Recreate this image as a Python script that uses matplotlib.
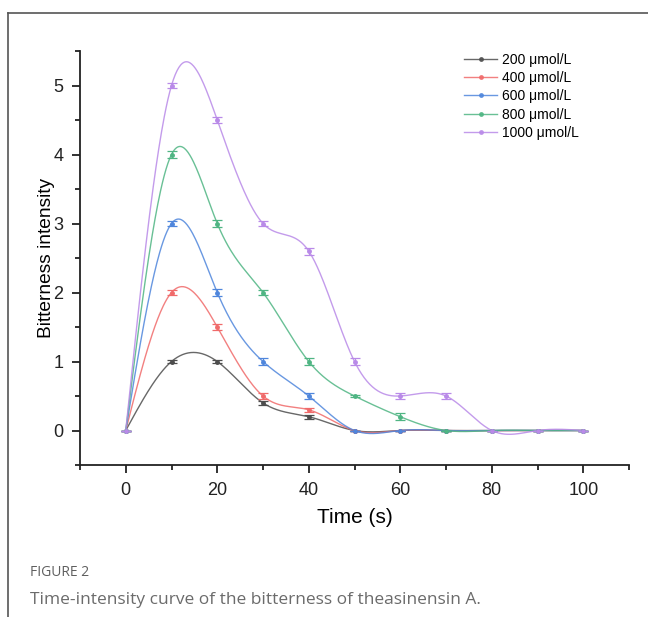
import numpy as np
import matplotlib
matplotlib.use("Agg")
import matplotlib.pyplot as plt
from matplotlib.lines import Line2D

# time points (s)
time = [0, 10, 20, 30, 40, 50, 60, 70, 80, 90, 100]

# bitterness intensity for each concentration
c200 = [0, 1.0, 1.0, 0.4, 0.2, 0, 0, 0, 0, 0, 0]
c400 = [0, 2.0, 1.5, 0.5, 0.3, 0, 0, 0, 0, 0, 0]
c600 = [0, 3.0, 2.0, 1.0, 0.5, 0, 0, 0, 0, 0, 0]
c800 = [0, 4.0, 3.0, 2.0, 1.0, 0.5, 0.2, 0, 0, 0, 0]
c1000 = [0, 5.0, 4.5, 3.0, 2.6, 1.0, 0.5, 0.5, 0, 0, 0]

# standard deviations (error bars)
e200 = [0, 0.02, 0.02, 0.03, 0.03, 0, 0, 0, 0, 0, 0]
e400 = [0, 0.04, 0.04, 0.04, 0.03, 0, 0, 0, 0, 0, 0]
e600 = [0, 0.03, 0.05, 0.05, 0.04, 0, 0, 0, 0, 0, 0]
e800 = [0, 0.05, 0.05, 0.03, 0.05, 0.02, 0.05, 0, 0, 0, 0]
e1000 = [0, 0.03, 0.04, 0.04, 0.05, 0.05, 0.05, 0.05, 0, 0, 0]

labels = ["200 μmol/L", "400 μmol/L", "600 μmol/L", "800 μmol/L", "1000 μmol/L"]
colors = ["#4d4d4d", "#f06a6a", "#4f86dc", "#4fb583", "#b98ae8"]


def spline_curve(x, y, n=500):
    """Natural cubic spline, like Origin's spline connect."""
    x = np.asarray(x, float)
    y = np.asarray(y, float)
    h = np.diff(x)
    m = len(x)
    A = np.zeros((m, m))
    r = np.zeros(m)
    A[0, 0] = A[-1, -1] = 1
    for i in range(1, m - 1):
        A[i, i - 1] = h[i - 1]
        A[i, i] = 2 * (h[i - 1] + h[i])
        A[i, i + 1] = h[i]
        r[i] = 3 * ((y[i + 1] - y[i]) / h[i] - (y[i] - y[i - 1]) / h[i - 1])
    c = np.linalg.solve(A, r)
    b = (y[1:] - y[:-1]) / h - h * (2 * c[:-1] + c[1:]) / 3
    d = (c[1:] - c[:-1]) / (3 * h)
    xs = np.linspace(x[0], x[-1], n)
    idx = np.clip(np.searchsorted(x, xs) - 1, 0, m - 2)
    dx = xs - x[idx]
    ys = y[idx] + b[idx] * dx + c[idx] * dx ** 2 + d[idx] * dx ** 3
    return xs, ys


plt.rcParams["font.family"] = ["Liberation Sans", "DejaVu Sans"]

fig = plt.figure(figsize=(6.48, 6.17), dpi=100)
ax = fig.add_axes([80 / 648, 1 - 465 / 617, 549 / 648, 414 / 617])

series = [(c200, e200), (c400, e400), (c600, e600), (c800, e800), (c1000, e1000)]
handles = []
for (vals, errs), col, lab in zip(series, colors, labels):
    xs, ys = spline_curve(time, vals)
    ax.plot(xs, ys, color=col, lw=1.0, alpha=0.85)
    ax.errorbar(time, vals, yerr=errs, fmt="o", ms=2.5, color=col,
                ecolor=col, elinewidth=0.9, capsize=3.5, capthick=0.9)
    handles.append(Line2D([], [], color=col, lw=1.0, marker="o", ms=2.5, alpha=0.85))

ax.set_xlim(-10, 110)
ax.set_ylim(-0.5, 5.5)
ax.set_xticks([0, 20, 40, 60, 80, 100])
ax.set_xticks([-10, 10, 30, 50, 70, 90, 110], minor=True)
ax.set_yticks([0, 1, 2, 3, 4, 5])
ax.set_yticks([-0.5, 0.5, 1.5, 2.5, 3.5, 4.5, 5.5], minor=True)
ax.spines["top"].set_visible(False)
ax.spines["right"].set_visible(False)
for s in ["left", "bottom"]:
    ax.spines[s].set_linewidth(1.3)
    ax.spines[s].set_color("#222222")
ax.tick_params(which="major", direction="out", length=6, width=1.3,
               labelsize=13, colors="#222222", pad=6)
ax.tick_params(which="minor", direction="out", length=3.5, width=1.3, colors="#222222")

ax.set_xlabel("Time (s)", fontsize=15, labelpad=7)
ax.set_ylabel("Bitterness intensity", fontsize=13.8, labelpad=-1)

ax.legend(handles, labels, loc="upper left", bbox_to_anchor=(464 / 648, 1 - 53 / 617),
          bbox_transform=fig.transFigure, frameon=False, fontsize=10,
          handlelength=2.4, handletextpad=0.35, labelspacing=0.3,
          borderpad=0, borderaxespad=0)

# page frame lines from the screenshot
fig.add_artist(Line2D([8 / 648, 1], [1 - 13 / 617, 1 - 13 / 617], color="#555555", lw=1.2))
fig.add_artist(Line2D([8 / 648, 8 / 648], [0, 1 - 13 / 617], color="#555555", lw=1.2))

# caption
fig.text(30 / 648, 1 - 572 / 617, "FIGURE 2", fontsize=10, color="#5f5f5f",
         family=["Open Sans", "DejaVu Sans"], va="center")
fig.text(30 / 648, 1 - 600 / 617, "Time-intensity curve of the bitterness of theasinensin A.",
         fontsize=12.5, color="#6b6b6b", family=["Open Sans", "DejaVu Sans"], va="center")

fig.savefig("out.png", dpi=100)
